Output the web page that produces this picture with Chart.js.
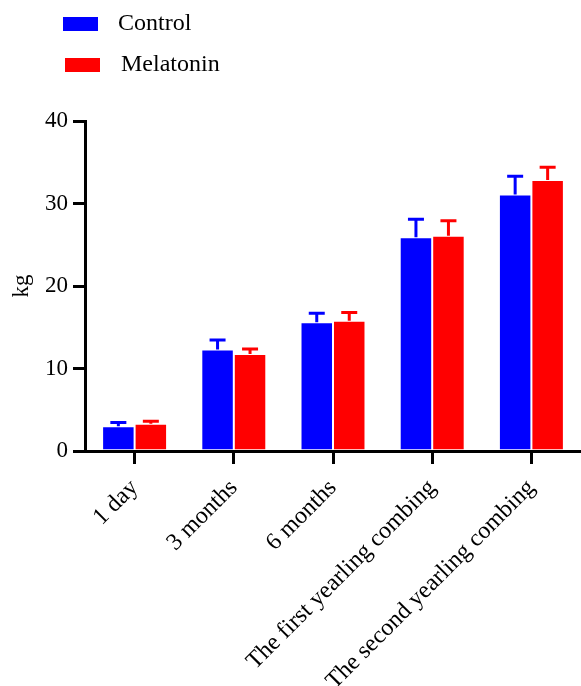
<!DOCTYPE html>
<html>
<head>
<meta charset="utf-8">
<script src="https://cdn.jsdelivr.net/npm/chart.js@4"></script>
<style>
  html, body { margin: 0; padding: 0; background: #fff; }
  #wrap { width: 581px; height: 686px; position: relative; }
</style>
</head>
<body>
<div id="wrap"><canvas id="chart"></canvas></div>
<script>
const categories = ['1 day', '3 months', '6 months', 'The first yearling combing', 'The second yearling combing'];
const controlMeans = [3.0, 12.3, 15.6, 25.9, 31.1];
const controlErr = [0.45, 1.15, 1.1, 2.2, 2.2];
const melatoninMeans = [3.3, 11.75, 15.8, 26.1, 32.85];
const melatoninErr = [0.3, 0.6, 1.0, 1.8, 1.55];
const yTicks = [0, 10, 20, 30, 40];

const serif = '"Liberation Serif", "Times New Roman", serif';

// upper error bars, drawn through the y scale
const errorBars = {
    id: 'errorBars',
    afterDatasetsDraw(chart) {
        const ctx = chart.ctx;
        const yScale = chart.scales.y;
        chart.data.datasets.forEach((ds, i) => {
            const meta = chart.getDatasetMeta(i);
            meta.data.forEach((bar, j) => {
                const top = yScale.getPixelForValue(ds.data[j] + ds.errors[j]);
                ctx.save();
                ctx.strokeStyle = ds.backgroundColor;
                ctx.lineWidth = 3;
                ctx.beginPath();
                ctx.moveTo(bar.x, bar.y);
                ctx.lineTo(bar.x, top);
                ctx.moveTo(bar.x - 8, top);
                ctx.lineTo(bar.x + 8, top);
                ctx.stroke();
                ctx.restore();
            });
        });
    }
};

// legend stacked in the top-left corner
const cornerLegend = {
    id: 'cornerLegend',
    afterDraw(chart) {
        const ctx = chart.ctx;
        const rows = [
            { x: 63, y: 17, tx: 118, ty: 24 },
            { x: 65, y: 58, tx: 121, ty: 65 }
        ];
        chart.data.datasets.forEach((ds, i) => {
            const r = rows[i];
            ctx.save();
            ctx.fillStyle = ds.backgroundColor;
            ctx.fillRect(r.x, r.y, 35, 14);
            ctx.fillStyle = '#000';
            ctx.font = '24px ' + serif;
            ctx.textBaseline = 'middle';
            ctx.fillText(ds.label, r.tx, r.ty);
            ctx.restore();
        });
    }
};

new Chart(document.getElementById('chart'), {
    type: 'bar',
    data: {
        labels: categories,
        datasets: [
            {
                label: 'Control',
                data: controlMeans,
                errors: controlErr,
                backgroundColor: '#0000ff',
                borderColor: 'rgba(255,255,255,0.7)',
                borderWidth: 1,
                categoryPercentage: 0.655,
                barPercentage: 1
            },
            {
                label: 'Melatonin',
                data: melatoninMeans,
                errors: melatoninErr,
                backgroundColor: '#ff0000',
                borderColor: 'rgba(255,255,255,0.7)',
                borderWidth: 1,
                categoryPercentage: 0.655,
                barPercentage: 1
            }
        ]
    },
    options: {
        responsive: true,
        maintainAspectRatio: false,
        animation: false,
        layout: { padding: { top: 121, right: 0, left: 0, bottom: 0 } },
        plugins: {
            legend: { display: false },
            tooltip: { enabled: false }
        },
        scales: {
            x: {
                offset: true,
                grid: {
                    offset: false,
                    drawOnChartArea: false,
                    color: '#000',
                    lineWidth: 3,
                    tickLength: 13
                },
                border: { color: '#000', width: 3 },
                ticks: {
                    color: '#000',
                    font: { family: serif, size: 24 },
                    minRotation: 45,
                    maxRotation: 45,
                    padding: 10
                },
                afterFit(scale) { scale.height = 235; }
            },
            y: {
                min: 0,
                max: 40,
                afterBuildTicks(scale) { scale.ticks = yTicks.map(v => ({ value: v })); },
                grid: {
                    drawOnChartArea: false,
                    color: '#000',
                    lineWidth: 3,
                    tickLength: 12
                },
                border: { color: '#000', width: 3 },
                ticks: {
                    color: '#000',
                    font: { family: serif, size: 23 },
                    padding: 5
                },
                title: {
                    display: true,
                    text: 'kg',
                    color: '#000',
                    font: { family: serif, size: 23 },
                    padding: { top: 8, bottom: 0 }
                },
                afterFit(scale) { scale.width = 85; }
            }
        }
    },
    plugins: [errorBars, cornerLegend]
});
</script>
</body>
</html>
